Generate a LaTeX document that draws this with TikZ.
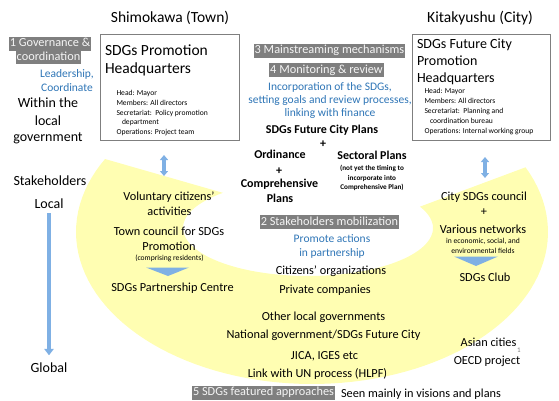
\documentclass[tikz,border=0pt]{standalone}
\usepackage{fontspec}
\setmainfont{Carlito}
\usetikzlibrary{arrows.meta}
\definecolor{ylw}{RGB}{255,254,178}
\definecolor{lblue}{RGB}{127,176,228}
\definecolor{bluetxt}{RGB}{46,117,182}
\definecolor{graybox}{RGB}{127,127,127}
\definecolor{graytxt}{RGB}{245,245,245}
\definecolor{boxline}{RGB}{127,127,127}
\begin{document}
\begin{tikzpicture}[x=1pt,y=-1pt,
  every node/.style={inner sep=0pt, outer sep=0pt},
  tx/.style={font=\fontsize{12.3}{14}\selectfont, anchor=base},
  bx/.style={font=\bfseries\fontsize{12}{14}\selectfont, anchor=base},
  big/.style={font=\fontsize{14}{17}\selectfont, anchor=base},
  ttl/.style={font=\fontsize{15.5}{18}\selectfont, anchor=base},
  hqt/.style={font=\fontsize{15.5}{18}\selectfont, anchor=base west},
  hqr/.style={font=\fontsize{14}{17}\selectfont, anchor=base west},
  sm/.style={font=\fontsize{7.6}{9}\selectfont, anchor=base west},
  smc/.style={font=\fontsize{7.6}{9}\selectfont, anchor=base},
  smb/.style={font=\bfseries\fontsize{7.2}{9}\selectfont, anchor=base},
  bl/.style={font=\fontsize{11.5}{13}\selectfont, text=bluetxt, anchor=base},
  lbl/.style={fill=graybox, text=graytxt, font=\fontsize{12.3}{14}\selectfont,
    inner xsep=1.2pt, inner ysep=1pt, text height=9pt, text depth=3pt},
  hqbox/.style={draw=boxline, line width=0.8pt},
  dblarrow/.style={line width=3.6pt, draw=lblue,
    {Triangle[width=8pt,length=5pt]}-{Triangle[width=8pt,length=5pt]}},
  vlarrow/.style={line width=4.6pt, draw=lblue, -{Triangle[width=9.5pt,length=6.5pt]}},
  tri/.style={fill=lblue}
]
\useasboundingbox (0,0) rectangle (559,401);

% yellow crescent
\fill[ylw] plot[domain=-25.2:208.7, samples=90] ({312+236*cos(\x)},{232+152*sin(\x)})
  -- plot[domain=-26.4:227.1, samples=90] ({308+125*cos(200.7-\x)},{228+48*sin(200.7-\x)})
  -- cycle;

% titles
\node[ttl] (shim) at (170,23) {Shimokawa (Town)};
\node[ttl] (kita) at (480,23) {Kitakyushu (City)};

% left HQ box
\node[hqbox, minimum width=139pt, minimum height=106pt] (lhq) at (169.5,87) {};
\node[hqt] (lhq1) at (105,56) {SDGs Promotion};
\node[hqt] (lhq2) at (105,74) {Headquarters};
\node[sm] (lhs1) at (116.5,95.5) {Head: Mayor};
\node[sm] (lhs2) at (116.5,105.5) {Members: All directors};
\node[sm] (lhs3) at (116.5,115.5) {Secretariat:\ \ Policy promotion};
\node[sm] (lhs4) at (122,124.5) {department};
\node[sm] (lhs5) at (116.5,134.5) {Operations: Project team};

% right HQ box
\node[hqbox, minimum width=138pt, minimum height=106pt] (rhq) at (481,87) {};
\node[hqr] (rhq1) at (417,49) {SDGs Future City};
\node[hqr] (rhq2) at (417,66) {Promotion};
\node[hqr] (rhq3) at (417,83) {Headquarters};
\node[sm] (rhs1) at (424.5,93.5) {Head: Mayor};
\node[sm] (rhs2) at (424.5,103.5) {Members: All directors};
\node[sm] (rhs3) at (424.5,113.5) {Secretariat:\ \ Planning and};
\node[sm] (rhs4) at (430,123.5) {coordination bureau};
\node[sm] (rhs5) at (424.5,133.5) {Operations: Internal working group};

% left column
\node[lbl] (g1a) at (50,44) {1 Governance \&};
\node[lbl] (g1b) at (48.5,57.5) {coordination};
\node[bl] (lead1) at (67,78) {Leadership,};
\node[bl] (lead2) at (67,92) {Coordinate};
\node[big] (win1) at (48,108) {Within the};
\node[big] (win2) at (48,125) {local};
\node[big] (win3) at (48,142) {government};
\node[big] (stak) at (50,185) {Stakeholders};
\node[big] (local) at (49,208) {Local};
\node[big] (global) at (49,372) {Global};
\draw[vlarrow, shorten <=5pt, shorten >=7pt] (local) -- (global);

% middle column
\node[lbl] (g3) at (329.5,51) {3 Mainstreaming mechanisms};
\node[lbl] (g4) at (326.5,70.5) {4 Monitoring \& review};
\node[bl] (inc1) at (330,91) {Incorporation of the SDGs,};
\node[bl] (inc2) at (330,104) {setting goals and review processes,};
\node[bl] (inc3) at (330,117) {linking with finance};
\node[bx] (fcp) at (322,133) {SDGs Future City Plans};
\node[bx] (plus1) at (323,147) {+};
\node[bx] (ord) at (280,158) {Ordinance};
\node[bx] (plus2) at (279,174) {+};
\node[bx] (comp) at (279.5,187) {Comprehensive};
\node[bx] (plans) at (280,202) {Plans};
\node[bx] (sect) at (372,159) {Sectoral Plans};
\node[smb] (sect1) at (372,170.5) {(not yet the timing to};
\node[smb] (sect2) at (372,180) {incorporate into};
\node[smb] (sect3) at (372,189.5) {Comprehensive Plan)};

\node[lbl] (g2) at (329.5,222) {2 Stakeholders mobilization};
\node[bl] (prom1) at (332,242) {Promote actions};
\node[bl] (prom2) at (332,256) {in partnership};
\node[tx] (cit) at (331,274) {Citizens’ organizations};
\node[tx] (priv) at (325,293) {Private companies};
\node[tx] (olg) at (323.5,320) {Other local governments};
\node[tx] (nat) at (323.5,338) {National government/SDGs Future City};
\node[tx] (jica) at (324.5,359) {JICA, IGES etc};
\node[tx] (un) at (317.5,377) {Link with UN process (HLPF)};
\node[lbl] (g5) at (263.5,392.5) {5 SDGs featured approaches};
\node[tx] (seen) at (421,397) {Seen mainly in visions and plans};

% left middle (Shimokawa stakeholders)
\coordinate (la1) at (164,155);
\coordinate (la2) at (164,176);
\draw[dblarrow] (la1) -- (la2);
\node[tx] (vol1) at (169,200) {Voluntary citizens’};
\node[tx] (vol2) at (169.5,215) {activities};
\node[tx] (tc1) at (169,235) {Town council for SDGs};
\node[tx] (tc2) at (169,250) {Promotion};
\node[smc] (tc3) at (169.5,260.7) {(comprising residents)};
\fill[tri] (146,267.5) -- (189,267.5) -- (168,276) -- cycle;
\node[tx] (spc) at (172.5,291) {SDGs Partnership Centre};

% right middle (Kitakyushu stakeholders)
\coordinate (ra1) at (485,157);
\coordinate (ra2) at (485,178);
\draw[dblarrow] (ra1) -- (ra2);
\node[tx] (csc) at (484,200) {City SDGs council};
\node[tx] (plus3) at (484,215) {+};
\node[tx] (vn) at (483,233) {Various networks};
\node[smc] (vn1) at (483,243.7) {in economic, social, and};
\node[smc] (vn2) at (483,253.7) {environmental fields};
\fill[tri] (454,256.5) -- (498,256.5) -- (476,266) -- cycle;
\node[tx] (club) at (485,281) {SDGs Club};
\node[tx] (asia) at (488.5,346) {Asian cities};
\node[font=\fontsize{7}{8}\selectfont, text=gray, anchor=base] (one) at (519,352) {1};
\node[tx] (oecd) at (487,364) {OECD project};
\end{tikzpicture}
\end{document}
